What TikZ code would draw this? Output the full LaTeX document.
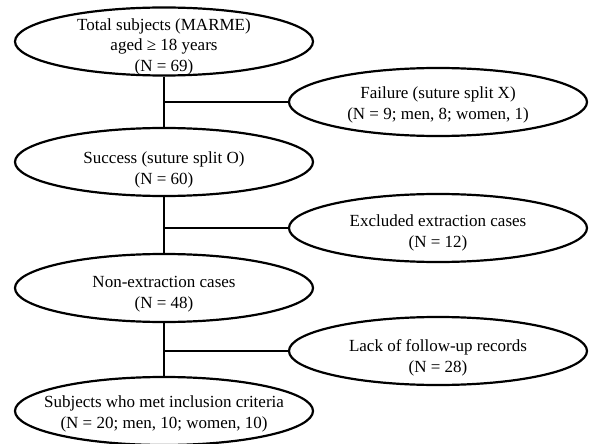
\documentclass[tikz,border=0pt]{standalone}
\usepackage{fontspec}
\setmainfont{Liberation Serif}
\usetikzlibrary{shapes.geometric}
\begin{document}
\begin{tikzpicture}[x=1pt,y=-1pt,
  oval/.style={ellipse,draw,line width=2.2pt,minimum width=298pt,minimum height=68pt,inner sep=0pt},
  txt/.style={align=center,font=\fontsize{17}{20.5}\selectfont,inner sep=0pt},
  link/.style={line width=2.2pt}]
\useasboundingbox (0,0) rectangle (590,444);
\node[oval] (e1) at (164,41.5) {};
\node[txt] (e1t) at (164,46.5) {Total subjects (MARME)\\aged ≥ 18 years\\(N = 69)};
\node[oval] (r1) at (438,102) {};
\node[txt] (r1t) at (438,105) {Failure (suture split X)\\(N = 9; men, 8; women, 1)};
\node[oval] (e2) at (164,162) {};
\node[txt] (e2t) at (164,170) {Success (suture split O)\\(N = 60)};
\node[oval] (r2) at (438,228) {};
\node[txt] (r2t) at (438,233) {Excluded extraction cases\\(N = 12)};
\node[oval] (e3) at (164,288) {};
\node[txt] (e3t) at (164,294) {Non-extraction cases\\(N = 48)};
\node[oval] (r3) at (438,351) {};
\node[txt] (r3t) at (438,358) {Lack of follow-up records\\(N = 28)};
\node[oval] (e4) at (164,411) {};
\node[txt] (e4t) at (164,414) {Subjects who met inclusion criteria\\(N = 20; men, 10; women, 10)};
\draw[link] (e1.south) -- (e2.north);
\draw[link] (e2.south) -- (e3.north);
\draw[link] (e3.south) -- (e4.north);
\draw[link] (e1.south |- r1.west) -- (r1.west);
\draw[link] (e2.south |- r2.west) -- (r2.west);
\draw[link] (e3.south |- r3.west) -- (r3.west);
\end{tikzpicture}
\end{document}
